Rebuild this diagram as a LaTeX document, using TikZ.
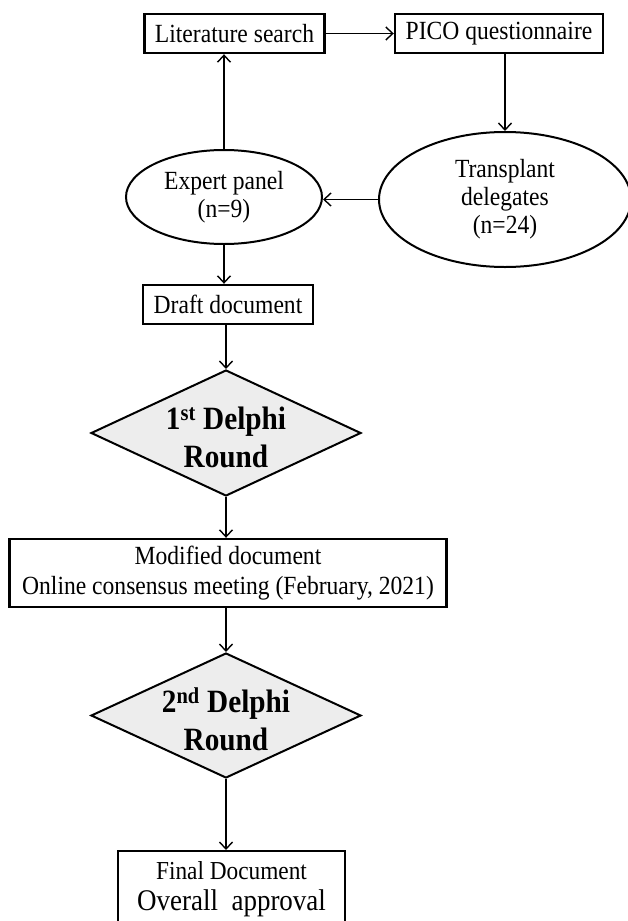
\documentclass[tikz,border=0pt]{standalone}
\usepackage{fontspec}
\setmainfont{Liberation Serif}[FakeStretch=0.9]
\usetikzlibrary{shapes.geometric,arrows.meta}
\definecolor{diafill}{HTML}{EDEDED}
\begin{document}
\begin{tikzpicture}[x=1pt,y=-1pt,
  box/.style={draw, line width=2.4pt, rectangle, inner sep=0pt, font=\fontsize{26.2}{29.5}\selectfont, align=center},
  oval/.style={draw, line width=2pt, ellipse, inner sep=0pt, font=\fontsize{26.2}{28}\selectfont, align=center},
  dia/.style={draw, line width=2pt, diamond, inner sep=0pt, fill=diafill},
  diatext/.style={font=\bfseries\fontsize{32.5}{38}\selectfont, align=center, inner sep=0pt},
  plain/.style={inner sep=0pt, anchor=base},
  arr/.style={line width=1.4pt, -{Straight Barb[length=7pt,width=13pt,line width=1.4pt]}}
]
\useasboundingbox (0,0) rectangle (628,921);
\fill[white] (0,0) rectangle (628,921);
\clip (0,0) rectangle (628,921);

\node[box, minimum width=180pt, minimum height=39pt] (lit) at (234.5,33.5) {Literature search};
\node[box, minimum width=208pt, minimum height=39pt] (pico) at (499,33.5) {PICO questionnaire};
\node[oval, minimum width=252pt, minimum height=135pt] (trans) at (505,199.5) {Transplant\\delegates\\(n=24)};
\node[oval, minimum width=196pt, minimum height=94pt] (exp) at (224,197) {Expert panel\\(n=9)};
\node[box, minimum width=170pt, minimum height=39pt] (draft) at (228,304.5) {Draft document};
\node[dia, minimum width=270pt, minimum height=126pt] (d1) at (226,433) {};
\node[diatext] (t1) at (226,437) {1\textsuperscript{st} Delphi\\Round};
\node[box, minimum width=437pt, minimum height=68pt] (mod) at (228,573) {Modified document\\Online consensus meeting (February, 2021)};
\node[dia, minimum width=270pt, minimum height=125pt] (d2) at (226,715.5) {};
\node[diatext] (t2) at (226,719) {2\textsuperscript{nd} Delphi\\Round};
\node[box, minimum width=227pt, minimum height=85pt, anchor=north] (fin) at (231.5,850) {};
\node[plain, font=\fontsize{25.9}{28}\selectfont] (fin1) at (231.5,879) {Final Document};
\node[plain, font=\fontsize{30}{32}\selectfont] (fin2) at (231.5,910) {Overall\ \ approval};

\draw[arr] (lit) -- (pico);
\draw[arr] (trans.north |- pico.south) -- (trans.north);
\draw[arr] (trans.west) -- (trans.west -| exp.east);
\draw[arr] (exp.north) -- (exp.north |- lit.south);
\draw[arr] (exp.south) -- (exp.south |- draft.north);
\draw[arr] (d1.north |- draft.south) -- (d1.north);
\draw[arr] (d1.south) -- (d1.south |- mod.north);
\draw[arr] (d2.north |- mod.south) -- (d2.north);
\draw[arr] (d2.south) -- (d2.south |- fin.north);
\end{tikzpicture}
\end{document}
